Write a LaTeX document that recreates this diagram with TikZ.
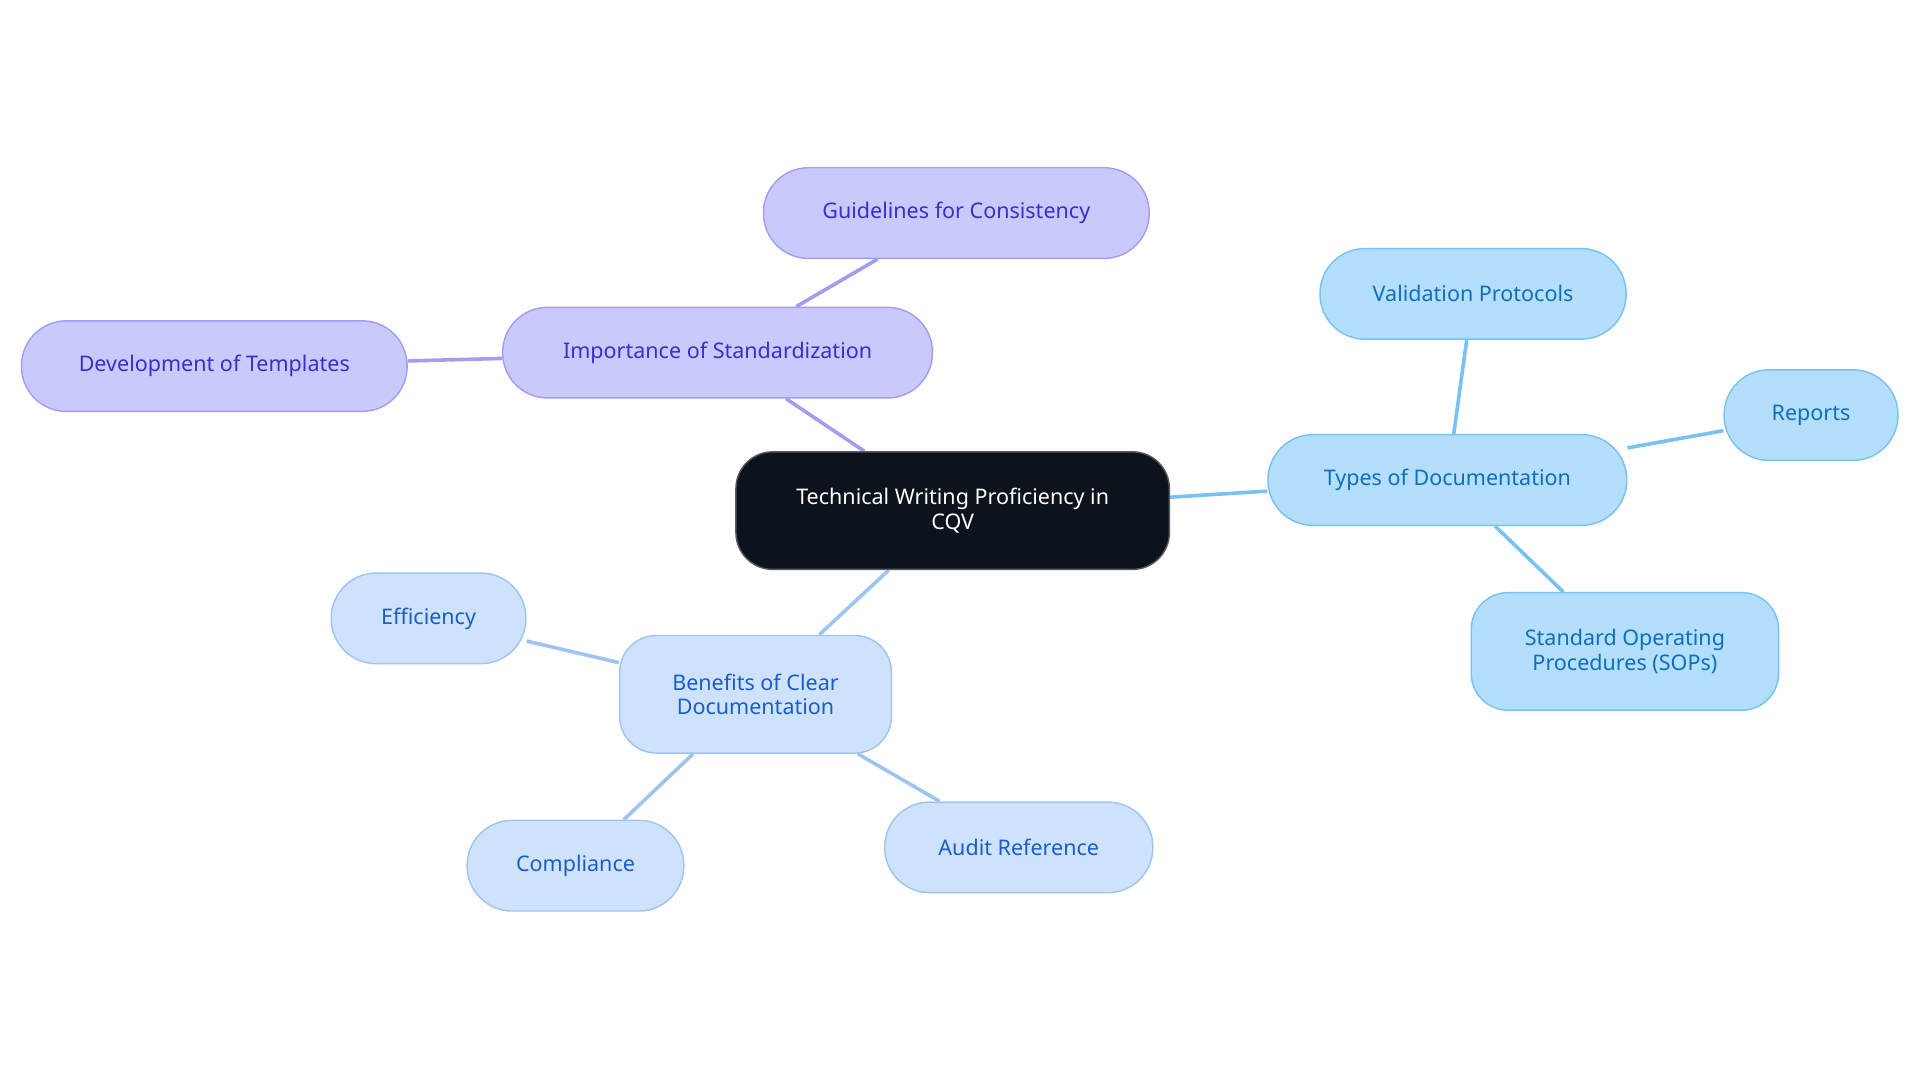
\documentclass[tikz,border=0pt]{standalone}
\usepackage{fontspec}
\setmainfont{Noto Sans}
\usetikzlibrary{backgrounds}
\definecolor{pF}{HTML}{C9C9FC}\definecolor{pB}{HTML}{A29DF0}\definecolor{pT}{HTML}{3A2FC9}
\definecolor{tF}{HTML}{B3DFFC}\definecolor{tB}{HTML}{78C1F3}\definecolor{tT}{HTML}{0F6EBE}
\definecolor{bF}{HTML}{CFE2FB}\definecolor{bB}{HTML}{9EC5F0}\definecolor{bT}{HTML}{1A5FC8}
\definecolor{cF}{HTML}{0D131C}
\tikzset{
 box/.style={rounded corners=11mm,line width=1pt,align=center,inner sep=0pt,font=\fontsize{15pt}{17pt}\selectfont},
 pbox/.style={box,fill=pF,draw=pB,text=pT},
 tbox/.style={box,fill=tF,draw=tB,text=tT},
 bbox/.style={box,fill=bF,draw=bB,text=bT},
 pl/.style={draw=pB,line width=2.5pt},
 tl/.style={draw=tB,line width=2.5pt},
 bl/.style={draw=bB,line width=2.5pt},
}
\begin{document}
\begin{tikzpicture}[x=0.3mm,y=-0.3mm]
\useasboundingbox (0,0) rectangle (1568,884);
\node[box,fill=cF,draw=cF!70,text=white,minimum width=354*0.3mm,minimum height=96*0.3mm,rounded corners=9mm] (c) at (778,417) {Technical Writing Proficiency in\\CQV};
\node[pbox,minimum width=351*0.3mm,minimum height=74*0.3mm] (imp) at (586,288) {Importance of Standardization};
\node[pbox,minimum width=315*0.3mm,minimum height=74*0.3mm] (gui) at (781,174) {Guidelines for Consistency};
\node[pbox,minimum width=315*0.3mm,minimum height=74*0.3mm] (dev) at (175,299) {Development of Templates};
\node[tbox,minimum width=293*0.3mm,minimum height=74*0.3mm] (typ) at (1182,392) {Types of Documentation};
\node[tbox,minimum width=250*0.3mm,minimum height=74*0.3mm] (val) at (1203,240) {Validation Protocols};
\node[tbox,minimum width=142*0.3mm,minimum height=74*0.3mm] (rep) at (1479,339) {Reports};
\node[tbox,minimum width=251*0.3mm,minimum height=96*0.3mm,rounded corners=9mm] (sop) at (1327,532) {Standard Operating\\Procedures (SOPs)};
\node[bbox,minimum width=222*0.3mm,minimum height=96*0.3mm,rounded corners=9mm] (ben) at (617,567) {Benefits of Clear\\Documentation};
\node[bbox,minimum width=159*0.3mm,minimum height=74*0.3mm] (eff) at (350,505) {Efficiency};
\node[bbox,minimum width=177*0.3mm,minimum height=74*0.3mm] (com) at (470,707) {Compliance};
\node[bbox,minimum width=219*0.3mm,minimum height=74*0.3mm] (aud) at (832,692) {Audit Reference};
\begin{scope}[on background layer]
\draw[pl] (c) -- (imp);
\draw[pl] (imp) -- (gui);
\draw[pl] (imp) -- (dev);
\draw[tl] (c) -- (typ);
\draw[tl] (typ) -- (val);
\draw[tl] (typ) -- (rep);
\draw[tl] (typ) -- (sop);
\draw[bl] (c) -- (ben);
\draw[bl] (ben) -- (eff);
\draw[bl] (ben) -- (com);
\draw[bl] (ben) -- (aud);
\end{scope}
\end{tikzpicture}
\end{document}
